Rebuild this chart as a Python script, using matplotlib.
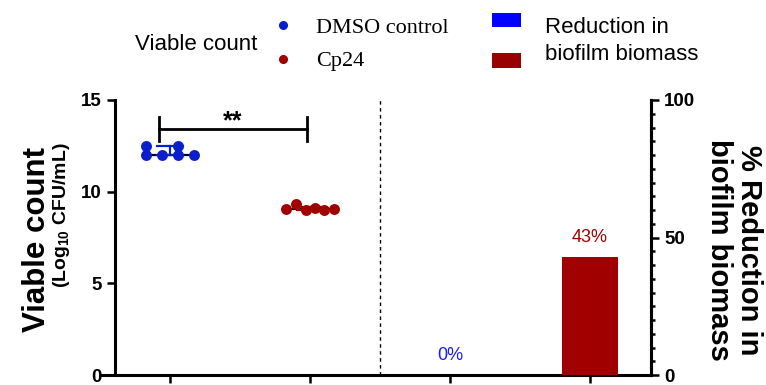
import numpy as np
import matplotlib
matplotlib.use('Agg')
import matplotlib.pyplot as plt
from matplotlib.lines import Line2D
from matplotlib.patches import Rectangle

plt.rcParams['font.family'] = ['Liberation Sans', 'DejaVu Sans']
plt.rcParams['mathtext.fontset'] = 'custom'
plt.rcParams['mathtext.rm'] = 'Liberation Sans:bold'
plt.rcParams['mathtext.it'] = 'Liberation Sans:bold'

# viable counts (log10 CFU/mL)
groups = ['DMSO control', 'Cp24']
dmso = [12.0, 12.5, 12.0, 12.0, 12.5, 12.0]
cp24 = [9.04, 9.31, 8.99, 9.13, 8.99, 9.04]
# horizontal spread of the dots (category units)
dmso_dx = [-0.171, -0.171, -0.057, 0.057, 0.057, 0.171]
cp24_dx = [-0.171, -0.1, -0.029, 0.036, 0.1, 0.171]

# % reduction in biofilm biomass
reduction = [0, 43]
reduction_labels = ['0%', '43%']

blue_pt = '#0a1ecc'
red_pt = '#a00000'
blue_bar = '#0000ff'
red_bar = '#a00000'

fig = plt.figure(figsize=(7.66, 3.85), dpi=100)
ax = fig.add_axes([102/766, 10/385, (651-102)/766, (375-100)/385])

for i, (vals, dx, c) in enumerate([(dmso, dmso_dx, blue_pt), (cp24, cp24_dx, red_pt)]):
	ax.scatter(np.array(dx) + i, vals, s=62, color=c, zorder=3, linewidths=0)
	med = np.median(vals)
	q1, q3 = np.percentile(vals, [25, 75], method='weibull')
	ax.plot([i - 0.171, i + 0.171], [med, med], color='black', lw=1.6, zorder=2)
	ax.plot([i, i], [q1, q3], color=c, lw=1.6, zorder=2)
	ax.plot([i - 0.093, i + 0.093], [q3, q3], color=c, lw=1.6, zorder=2)
	ax.plot([i - 0.093, i + 0.093], [q1, q1], color=c, lw=1.6, zorder=2)

# significance bracket
ax.plot([-0.08, 0.98], [13.4, 13.4], color='black', lw=2.0)
ax.plot([-0.08, -0.08], [12.75, 14.05], color='black', lw=2.0)
ax.plot([0.98, 0.98], [12.75, 14.05], color='black', lw=2.0)
ax.text(0.45, 13.2, '**', ha='center', va='bottom', fontsize=18, fontweight='bold')

ax.axvline(1.5, color='black', lw=1.0, ls=(0, (2.5, 2.5)))

ax.set_xlim(-0.486, 3.436)
ax.set_ylim(0, 15)
ax.set_xticks([0, 1, 2, 3])
ax.set_xticklabels([])
ax.set_yticks([0, 5, 10, 15])
ax.spines['left'].set_position(('data', -0.393))
ax.spines['top'].set_visible(False)
for s in ['left', 'bottom', 'right']:
	ax.spines[s].set_linewidth(2.2)
ax.tick_params(axis='both', direction='out', length=6, width=1.8, labelsize=13.5)
for lab in ax.get_yticklabels():
	lab.set_fontweight('bold')

ax2 = ax.twinx()
ax2.bar([2, 3], reduction, width=0.4, color=[blue_bar, red_bar])
for x, v, t, c in zip([2, 3], reduction, reduction_labels, ['#1a1aff', red_bar]):
	ax2.annotate(t, (x, v), xytext=(0, 8), textcoords='offset points',
				 ha='center', va='bottom', fontsize=13, color=c)
ax2.set_ylim(0, 100)
ax2.set_yticks([0, 50, 100])
ax2.set_yticks(np.arange(0, 101, 5), minor=True)
ax2.spines['top'].set_visible(False)
ax2.spines['left'].set_visible(False)
ax2.spines['right'].set_linewidth(2.2)
ax2.spines['bottom'].set_visible(False)
ax2.tick_params(axis='y', which='major', direction='out', length=6, width=1.8, labelsize=13.5)
ax2.tick_params(axis='y', which='minor', direction='out', length=3, width=1.8)
for lab in ax2.get_yticklabels():
	lab.set_fontweight('bold')

# axis titles
fig.text(37/766, 1 - 240/385, 'Viable count', rotation=90, ha='center', va='center',
		 fontsize=22.5, fontweight='bold')
fig.text(61/766, 1 - 215/385, '(Log$_{10}$ CFU/mL)', rotation=90, ha='center', va='center',
		 fontsize=14, fontweight='bold')
fig.text(734/766, 1 - 250/385, '% Reduction in\nbiofilm biomass', rotation=-90, ha='center',
		 va='center', fontsize=21, fontweight='bold', linespacing=1.05, multialignment='center')

# legends
fig.text(135/766, 1 - 45/385, 'Viable count', ha='left', va='center', fontsize=16)
handles = [Line2D([], [], ls='none', marker='o', ms=5.5, color=blue_pt),
		   Line2D([], [], ls='none', marker='o', ms=5.5, color=red_pt)]
fig.legend(handles, groups, loc='upper left', bbox_to_anchor=(272/766, 1 - 17/385),
		   frameon=False, borderpad=0, borderaxespad=0, handlelength=1.0,
		   handletextpad=1.0, labelspacing=0.6,
		   prop={'family': 'Liberation Serif', 'size': 16})
fig.add_artist(Rectangle((492/766, 1 - 27/385), 29/766, 14/385, transform=fig.transFigure,
						 color=blue_bar, lw=0))
fig.add_artist(Rectangle((492/766, 1 - 68/385), 29/766, 15/385, transform=fig.transFigure,
						 color='#990000', lw=0))
fig.text(545/766, 1 - 41/385, 'Reduction in\nbiofilm biomass', ha='left', va='center',
		 fontsize=16, linespacing=1.4)

fig.savefig('out.png', dpi=100)
